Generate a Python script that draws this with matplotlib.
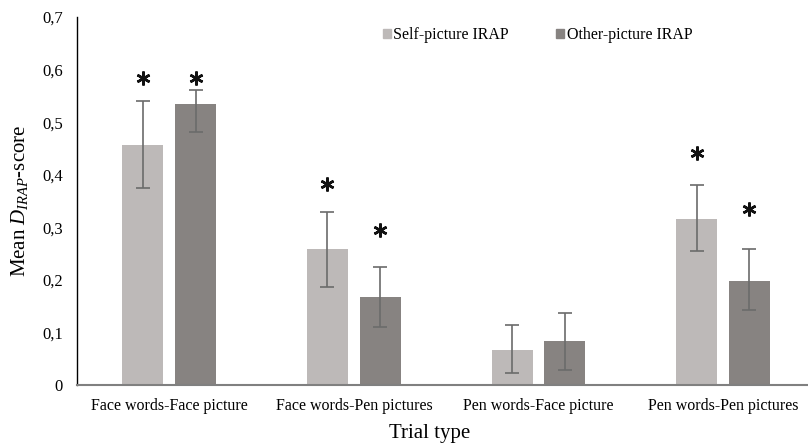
import matplotlib
matplotlib.use("Agg")
import matplotlib.pyplot as plt
from matplotlib.patches import Patch
import numpy as np

categories = ["Face words-Face picture", "Face words-Pen pictures",
              "Pen words-Face picture", "Pen words-Pen pictures"]
series_names = ["Self-picture IRAP", "Other-picture IRAP"]
self_vals = [0.456, 0.259, 0.067, 0.316]
self_err_hi = [0.540, 0.329, 0.114, 0.380]
self_err_lo = [0.375, 0.186, 0.023, 0.255]
other_vals = [0.534, 0.167, 0.084, 0.198]
other_err_hi = [0.561, 0.224, 0.137, 0.259]
other_err_lo = [0.481, 0.110, 0.029, 0.143]
star_self = [0.584, 0.382, None, 0.441]
star_other = [0.584, 0.295, None, 0.335]
yticks = [0, 0.1, 0.2, 0.3, 0.4, 0.5, 0.6, 0.7]
ytick_labels = ["0", "0,1", "0,2", "0,3", "0,4", "0,5", "0,6", "0,7"]

plt.rcParams['font.family'] = ['Liberation Serif', 'DejaVu Serif']
plt.rcParams['mathtext.fontset'] = 'custom'
plt.rcParams['mathtext.rm'] = 'Liberation Serif'
plt.rcParams['mathtext.it'] = 'Liberation Serif:italic'

c_self = "#bdb9b8"
c_other = "#878381"
c_err = "#6b6b6b"

fig = plt.figure(figsize=(8.08, 4.46), dpi=100)
ax = fig.add_axes([77/808, 61/446, 731/808, 368/446])

x = np.arange(len(categories))
w = 0.222
off = 0.143

for vals, hi, lo, col, pos, stars in [
        (self_vals, self_err_hi, self_err_lo, c_self, x - off, star_self),
        (other_vals, other_err_hi, other_err_lo, c_other, x + off, star_other)]:
    vals = np.array(vals); hi = np.array(hi); lo = np.array(lo)
    ax.bar(pos, vals, width=w, color=col, zorder=2)
    ax.errorbar(pos, vals, yerr=[vals - lo, hi - vals], fmt='none',
                ecolor=c_err, elinewidth=1.2, capsize=5, capthick=1.2, zorder=3)
    for p, s in zip(pos, stars):
        if s is not None:
            ax.plot(p, s, marker=(6, 2, 0), markersize=10, markeredgewidth=1.8,
                    color='#111111', zorder=4)

ax.set_xlim(-0.5, 3.46)
ax.set_ylim(0, 0.7)
ax.set_yticks(yticks)
ax.set_yticklabels(ytick_labels)
ax.set_xticks(x)
ax.set_xticklabels(categories)
ax.tick_params(axis='y', length=0, pad=10, labelsize=12)
ax.tick_params(axis='x', length=0, pad=9, labelsize=11.5)
for s in ['top', 'right']:
    ax.spines[s].set_visible(False)
ax.spines['left'].set_color('black')
ax.spines['left'].set_linewidth(1.0)
ax.spines['bottom'].set_color('#808080')
ax.spines['bottom'].set_linewidth(1.5)

ax.set_ylabel(r"Mean $\mathit{D}_{\mathit{IRAP}}$-score", fontsize=15, labelpad=9)
ax.set_xlabel("Trial type", fontsize=15, labelpad=7.5)
ax.xaxis.label.set_x(0.482)

handles = [Patch(color=c_self), Patch(color=c_other)]
ax.legend(handles, series_names, ncol=2, frameon=False, fontsize=11.5,
          loc='upper left', bbox_to_anchor=(0.399, 1.012),
          handlelength=0.5, handleheight=0.5, handletextpad=0.15,
          columnspacing=2.95)

fig.savefig("out.png", dpi=100)
